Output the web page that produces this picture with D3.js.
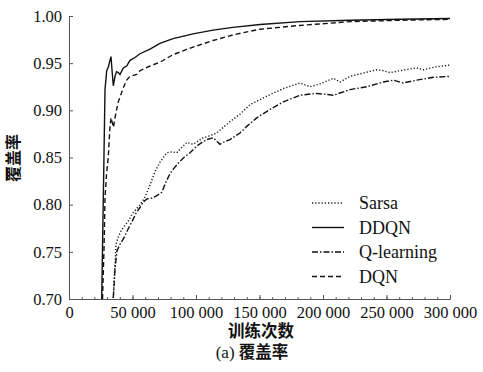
<!DOCTYPE html>
<html>
<head>
<meta charset="utf-8">
<script src="https://cdn.jsdelivr.net/npm/d3@7"></script>
<style>
  body { margin: 0; background: #fff; }
  svg { display: block; }
  .serif { font-family: "Liberation Serif", "Times New Roman", serif; }
  .cjk { font-family: "Noto Sans CJK SC", sans-serif; font-weight: bold; }
</style>
</head>
<body>
<svg width="483" height="372"></svg>
<script>
// values
const seriesNames = ["Sarsa", "DDQN", "Q-learning", "DQN"];

const ddqnX = [25750, 27010, 28350, 29680, 30940, 32280, 33070, 33860, 34880, 36220, 37400, 38820, 40160, 42760, 45430, 48030, 51970, 55900, 63780, 71650, 81890, 97640, 113390, 129130, 150390, 181890, 221260, 260630, 300000];
const ddqnY = [0.700, 0.806, 0.922, 0.942, 0.946, 0.953, 0.957, 0.943, 0.926, 0.936, 0.941, 0.940, 0.938, 0.945, 0.947, 0.953, 0.956, 0.960, 0.965, 0.971, 0.976, 0.981, 0.985, 0.988, 0.991, 0.994, 0.9955, 0.9965, 0.9973];

const dqnX = [26380, 27560, 28350, 29530, 30940, 31890, 32280, 33070, 34250, 35040, 36220, 37560, 38820, 40160, 42760, 45430, 48030, 53300, 55900, 63780, 71650, 81890, 97640, 113390, 129130, 150390, 181890, 221260, 260630, 300000];
const dqnY = [0.700, 0.753, 0.806, 0.832, 0.851, 0.874, 0.883, 0.892, 0.886, 0.882, 0.892, 0.901, 0.909, 0.914, 0.924, 0.932, 0.936, 0.938, 0.942, 0.947, 0.951, 0.959, 0.967, 0.974, 0.980, 0.986, 0.990, 0.994, 0.9955, 0.9965];

const sarsaX = [34880, 35830, 37010, 38580, 40950, 43310, 46460, 49610, 52760, 55900, 59840, 63780, 67720, 71650, 76930, 81100, 84800, 92680, 97870, 105750, 111020, 116300, 118900, 126770, 134650, 142520, 155670, 168740, 181890, 189760, 197640, 208110, 213390, 221260, 233070, 242280, 247480, 252760, 264570, 273780, 278980, 288190, 300000];
const sarsaY = [0.701, 0.726, 0.758, 0.765, 0.772, 0.777, 0.782, 0.790, 0.795, 0.800, 0.808, 0.821, 0.835, 0.845, 0.855, 0.856, 0.855, 0.866, 0.864, 0.871, 0.873, 0.876, 0.879, 0.888, 0.896, 0.906, 0.915, 0.923, 0.929, 0.925, 0.928, 0.934, 0.930, 0.936, 0.940, 0.943, 0.942, 0.940, 0.943, 0.945, 0.943, 0.946, 0.948];

const qX = [34880, 36220, 37800, 40160, 43310, 46460, 49610, 52760, 55900, 58500, 61420, 65350, 68500, 72990, 76370, 79530, 83460, 87400, 91340, 95280, 100550, 104730, 108430, 113620, 116540, 118900, 122840, 126770, 134650, 139920, 147800, 158270, 168740, 181890, 195040, 208110, 221260, 234410, 247480, 255360, 263230, 273780, 286850, 300000];
const qY = [0.701, 0.732, 0.751, 0.758, 0.765, 0.774, 0.782, 0.791, 0.797, 0.803, 0.806, 0.807, 0.809, 0.813, 0.824, 0.833, 0.840, 0.846, 0.851, 0.855, 0.862, 0.866, 0.869, 0.871, 0.867, 0.864, 0.867, 0.869, 0.876, 0.883, 0.892, 0.901, 0.909, 0.916, 0.918, 0.916, 0.922, 0.925, 0.930, 0.932, 0.929, 0.932, 0.935, 0.936];

const xTicks = [0, 50000, 100000, 150000, 200000, 250000, 300000];
const yTicks = [0.70, 0.75, 0.80, 0.85, 0.90, 0.95, 1.00];

const svg = d3.select("svg");
const margin = { top: 16, right: 33, bottom: 73, left: 69 };
const width = +svg.attr("width") - margin.left - margin.right;
const height = +svg.attr("height") - margin.top - margin.bottom;
const g = svg.append("g").attr("transform", `translate(${margin.left},${margin.top})`);

const x = d3.scaleLinear().domain([0, 300000]).range([0, width]);
const y = d3.scaleLinear().domain([0.70, 1.00]).range([height, 0]);

const fmt = d => d === 0 ? "0" : d3.format(",")(d).replace(/,/g, " ");

// minor ticks on the x axis
g.append("g")
    .attr("transform", `translate(0,${height})`)
    .call(d3.axisBottom(x).tickValues(d3.range(0, 300001, 10000)).tickSize(-2).tickFormat(""))
    .call(a => a.select(".domain").remove())
    .selectAll("line").attr("stroke", "#666");

const xAxis = g.append("g")
    .attr("transform", `translate(0,${height})`)
    .call(d3.axisBottom(x).tickValues(xTicks).tickSize(-4).tickPadding(7).tickFormat(fmt));

const yAxis = g.append("g")
    .call(d3.axisLeft(y).tickValues(yTicks).tickSize(-4).tickPadding(7).tickFormat(d3.format(".2f")));

[xAxis, yAxis].forEach(a => {
    a.attr("font-family", null).attr("font-size", null);
    a.selectAll("text").attr("class", "serif").attr("font-size", 16.5).attr("fill", "#111");
});

g.selectAll(".domain").attr("stroke", "#555");
g.selectAll(".tick line").attr("stroke", "#555");

const series = [
    { name: "Sarsa", xs: sarsaX, ys: sarsaY, dash: "1.2,2" },
    { name: "DDQN", xs: ddqnX, ys: ddqnY, dash: null },
    { name: "Q-learning", xs: qX, ys: qY, dash: "6,2,1.5,2" },
    { name: "DQN", xs: dqnX, ys: dqnY, dash: "5,3" }
];

const line = d3.line().x(d => x(d[0])).y(d => y(d[1]));

g.append("g").selectAll("path")
    .data(series)
    .enter()
    .append("path")
    .attr("d", s => line(s.xs.map((v, i) => [v, s.ys[i]])))
    .attr("fill", "none")
    .attr("stroke", "#111")
    .attr("stroke-width", 1.4)
    .attr("stroke-dasharray", s => s.dash);

// legend
const legend = g.append("g").attr("transform", "translate(243,187)");
series.forEach((s, i) => {
    const row = legend.append("g").attr("transform", `translate(0,${i * 24.5})`);
    row.append("line")
        .attr("x1", 0).attr("x2", 32)
        .attr("stroke", "#111").attr("stroke-width", 1.4)
        .attr("stroke-dasharray", s.dash);
    row.append("text")
        .attr("class", "serif")
        .attr("x", 47).attr("dy", "0.35em")
        .attr("font-size", 18)
        .attr("fill", "#111")
        .text(s.name);
});

// axis titles
svg.append("text")
    .attr("class", "cjk")
    .attr("transform", "translate(19,158) rotate(-90)")
    .attr("text-anchor", "middle")
    .attr("font-size", 16)
    .attr("fill", "#111")
    .text("覆盖率");

svg.append("text")
    .attr("class", "cjk")
    .attr("x", 261).attr("y", 337)
    .attr("text-anchor", "middle")
    .attr("font-size", 16.5)
    .attr("fill", "#111")
    .text("训练次数");

const cap = svg.append("text")
    .attr("x", 252).attr("y", 358)
    .attr("text-anchor", "middle")
    .attr("font-size", 16.5)
    .attr("fill", "#111");
cap.append("tspan").attr("class", "serif").attr("font-size", 17).text("(a) ");
cap.append("tspan").attr("class", "cjk").text("覆盖率");
</script>
</body>
</html>
